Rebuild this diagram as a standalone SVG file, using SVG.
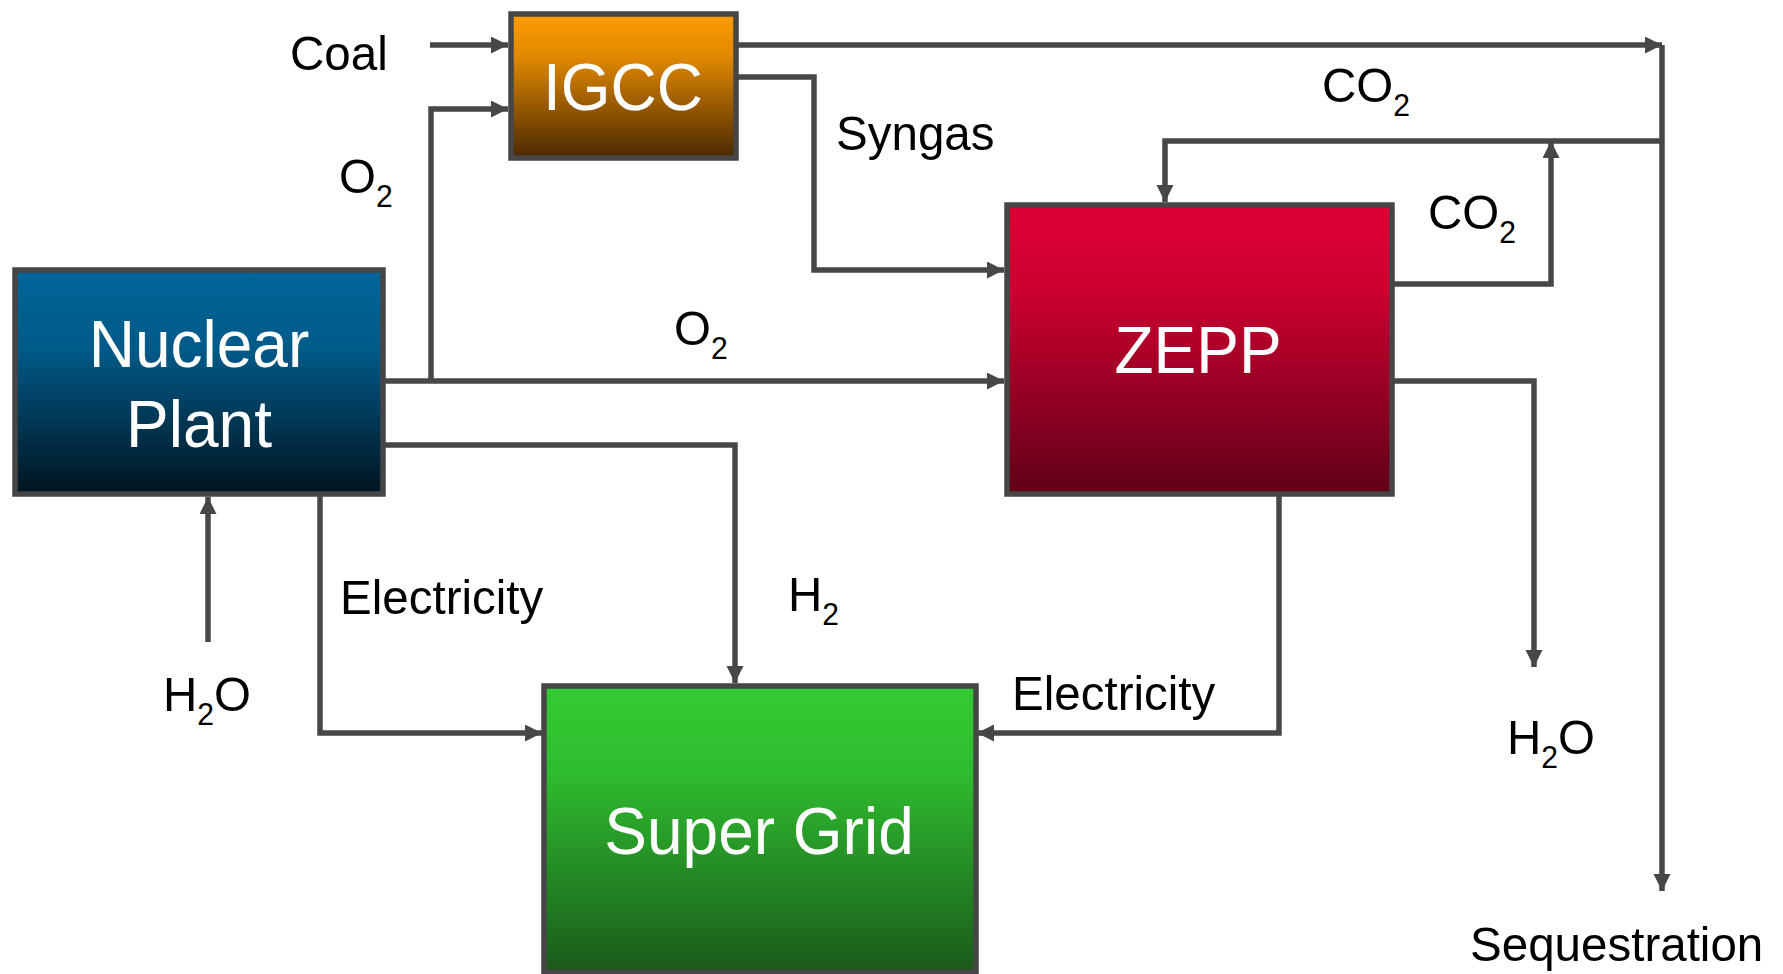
<svg xmlns="http://www.w3.org/2000/svg" width="1783" height="974" viewBox="0 0 1783 974">
<style>
.box{stroke:#464646;stroke-width:5.5}
.big{font-family:"Liberation Sans",Arial,sans-serif;font-size:66px;fill:#ffffff;text-anchor:middle}
.lbl{font-family:"Liberation Sans",Arial,sans-serif;font-size:49px;fill:#000000}
.sub{font-size:31px}
.c{fill:none;stroke:#474747;stroke-width:5.5;stroke-linejoin:miter}
</style>
<defs>
<linearGradient id="gN" x1="0" y1="0" x2="0" y2="1"><stop offset="0" stop-color="#006699"/><stop offset="0.35" stop-color="#005a88"/><stop offset="1" stop-color="#001420"/></linearGradient>
<linearGradient id="gI" x1="0" y1="0" x2="0" y2="1"><stop offset="0" stop-color="#ff9c00"/><stop offset="0.3" stop-color="#e08800"/><stop offset="1" stop-color="#4a2800"/></linearGradient>
<linearGradient id="gZ" x1="0" y1="0" x2="0" y2="1"><stop offset="0" stop-color="#de0034"/><stop offset="0.3" stop-color="#cc0030"/><stop offset="1" stop-color="#600018"/></linearGradient>
<linearGradient id="gS" x1="0" y1="0" x2="0" y2="1"><stop offset="0" stop-color="#33cc33"/><stop offset="0.3" stop-color="#2fbc2f"/><stop offset="1" stop-color="#1a5a1a"/></linearGradient>
<marker id="ah" markerUnits="userSpaceOnUse" markerWidth="18" markerHeight="18" refX="17" refY="8.5" orient="auto"><path d="M0,0 L17,8.5 L0,17 z" fill="#474747"/></marker>
</defs>
<g id="connectors">
<path class="c" d="M430,45 L508,45" marker-end="url(#ah)"/>
<path class="c" d="M431,381 L431,109 L508,109" marker-end="url(#ah)"/>
<path class="c" d="M738,45 L1662,45" marker-end="url(#ah)"/>
<path class="c" d="M1662,45 L1662,891" marker-end="url(#ah)"/>
<path class="c" d="M738,77 L814,77 L814,270 L1004,270" marker-end="url(#ah)"/>
<path class="c" d="M1662,141 L1165,141 L1165,202" marker-end="url(#ah)"/>
<path class="c" d="M1394,284 L1551,284 L1551,141" marker-end="url(#ah)"/>
<path class="c" d="M1394,381 L1534,381 L1534,667" marker-end="url(#ah)"/>
<path class="c" d="M385,381 L1004,381" marker-end="url(#ah)"/>
<path class="c" d="M385,445 L735,445 L735,683" marker-end="url(#ah)"/>
<path class="c" d="M320,496 L320,733 L542,733" marker-end="url(#ah)"/>
<path class="c" d="M1279,496 L1279,733 L977,733" marker-end="url(#ah)"/>
<path class="c" d="M208,642 L208,497" marker-end="url(#ah)"/>
</g>
<g id="node-igcc">
<rect class="box" x="511" y="14" width="225" height="144" fill="url(#gI)"/>
<text class="big" transform="translate(623,110) scale(0.97,1)">IGCC</text>
</g>
<g id="node-nuclear">
<rect class="box" x="15" y="270" width="368" height="224" fill="url(#gN)"/>
<text class="big" transform="translate(199,367) scale(0.97,1)">Nuclear</text>
<text class="big" transform="translate(199,447) scale(0.97,1)">Plant</text>
</g>
<g id="node-zepp">
<rect class="box" x="1007" y="205" width="385" height="289" fill="url(#gZ)"/>
<text class="big" transform="translate(1198,373) scale(0.97,1)">ZEPP</text>
</g>
<g id="node-supergrid">
<rect class="box" x="544" y="686" width="432" height="286" fill="url(#gS)"/>
<text class="big" transform="translate(759,854) scale(0.97,1)">Super Grid</text>
</g>
<g id="labels">
<text class="lbl" transform="translate(290,70) scale(0.97,1)">Coal</text>
<text class="lbl" transform="translate(339,193) scale(0.97,1)">O<tspan class="sub" dy="14">2</tspan></text>
<text class="lbl" transform="translate(836,150) scale(0.97,1)">Syngas</text>
<text class="lbl" transform="translate(1322,102) scale(0.97,1)">CO<tspan class="sub" dy="14">2</tspan></text>
<text class="lbl" transform="translate(1428,229) scale(0.97,1)">CO<tspan class="sub" dy="14">2</tspan></text>
<text class="lbl" transform="translate(674,345) scale(0.97,1)">O<tspan class="sub" dy="14">2</tspan></text>
<text class="lbl" transform="translate(788,611) scale(0.97,1)">H<tspan class="sub" dy="14">2</tspan></text>
<text class="lbl" transform="translate(340,614) scale(0.97,1)">Electricity</text>
<text class="lbl" transform="translate(1012,710) scale(0.97,1)">Electricity</text>
<text class="lbl" transform="translate(163,711) scale(0.97,1)">H<tspan class="sub" dy="14">2</tspan><tspan dy="-14">O</tspan></text>
<text class="lbl" transform="translate(1507,754) scale(0.97,1)">H<tspan class="sub" dy="14">2</tspan><tspan dy="-14">O</tspan></text>
<text class="lbl" transform="translate(1470,961) scale(0.97,1)">Sequestration</text>
</g>
</svg>
